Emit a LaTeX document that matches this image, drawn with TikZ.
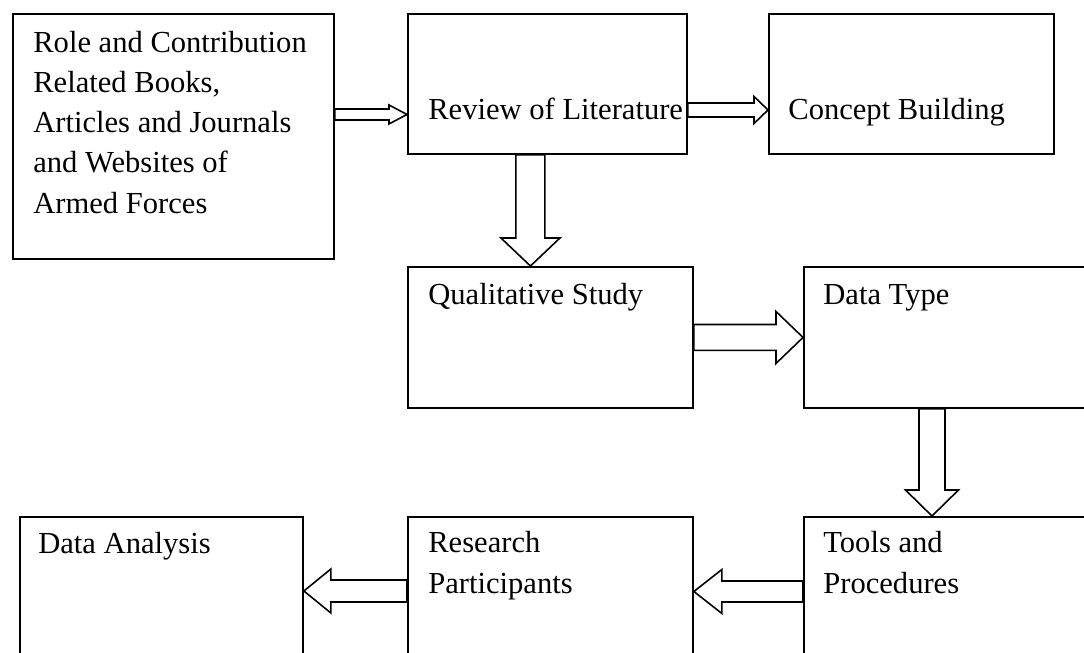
\documentclass[tikz,border=0pt]{standalone}
\usepackage{fontspec}
\setmainfont{Liberation Serif}
\usetikzlibrary{calc}
\tikzset{
  box/.style={draw, line width=1.1pt, rectangle, inner sep=0pt, anchor=north west},
  lbl/.style={anchor=base west, inner sep=0pt, align=left, font=\fontsize{17.4}{22.8}\selectfont},
  blockarrow/.style={draw, fill=white, line width=0.9pt, line join=miter}
}
% hollow block arrow: start, end, shaft half width, head half width, head length
\newcommand\blockarr[5]{%
  \coordinate (ba-s) at (#1);
  \coordinate (ba-e) at (#2);
  \coordinate (ba-h) at ($(ba-e)!#5!(ba-s)$);
  \draw[blockarrow] ($(ba-s)!#3!90:(ba-e)$) -- ($(ba-h)!#3!90:(ba-e)$)
    -- ($(ba-h)!#4!90:(ba-e)$) -- (ba-e) -- ($(ba-h)!#4!-90:(ba-e)$)
    -- ($(ba-h)!#3!-90:(ba-e)$) -- ($(ba-s)!#3!-90:(ba-e)$) -- cycle;
}
\begin{document}
\begin{tikzpicture}[x=0.02cm, y=-0.02cm]
\useasboundingbox (0,0) rectangle (1084,652);
\clip (0,0) rectangle (1084,652);
\node[box, minimum width=6.42cm, minimum height=4.90cm] (src) at (12,13) {};
\node[box, minimum width=5.58cm, minimum height=2.80cm] (rev) at (407,13) {};
\node[box, minimum width=5.70cm, minimum height=2.80cm] (con) at (768,13) {};
\node[box, minimum width=5.70cm, minimum height=2.82cm] (qual) at (407,266) {};
\node[box, minimum width=6.00cm, minimum height=2.82cm] (dtype) at (803,266) {};
\node[box, minimum width=6.00cm, minimum height=3.20cm] (tools) at (803,516) {};
\node[box, minimum width=5.70cm, minimum height=3.20cm] (part) at (407,516) {};
\node[box, minimum width=5.66cm, minimum height=3.20cm] (anal) at (19,516) {};

% multi-line labels sit on the baseline of their last line
\node[lbl] (src-t) at (33,213) {Role and Contribution\\Related Books,\\Articles and Journals\\and Websites of\\Armed Forces};
\node[lbl] (rev-t) at (428,119) {Review of Literature};
\node[lbl] (con-t) at (788,119) {Concept Building};
\node[lbl] (qual-t) at (428,304) {Qualitative Study};
\node[lbl] (dtype-t) at (823,304) {Data Type};
\node[lbl] (tools-t) at (823,593) {Tools and\\Procedures};
\node[lbl] (part-t) at (428,593) {Research\\Participants};
\node[lbl] (anal-t) at (38,553) {Data Analysis};

\coordinate (a1) at ([yshift=-2.03cm]src.north east);
\coordinate (a2) at ([yshift=-1.94cm]rev.north east);
\coordinate (a3) at ([xshift=-0.34cm]rev.south);
\coordinate (a5) at ([xshift=2.58cm]dtype.south west);
\coordinate (a6) at ([yshift=-1.51cm]tools.north west);
\coordinate (a7) at ([yshift=-1.50cm]part.north west);
\blockarr{a1}{a1 -| rev.west}{0.11cm}{0.19cm}{0.36cm}
\blockarr{a2}{a2 -| con.west}{0.14cm}{0.27cm}{0.28cm}
\blockarr{a3}{a3 |- qual.north}{0.29cm}{0.59cm}{0.56cm}
\blockarr{qual.east}{dtype.west}{0.26cm}{0.52cm}{0.54cm}
\blockarr{a5}{a5 |- tools.north}{0.26cm}{0.53cm}{0.52cm}
\blockarr{a6}{a6 -| part.east}{0.21cm}{0.44cm}{0.56cm}
\blockarr{a7}{a7 -| anal.east}{0.22cm}{0.44cm}{0.54cm}
\end{tikzpicture}
\end{document}
